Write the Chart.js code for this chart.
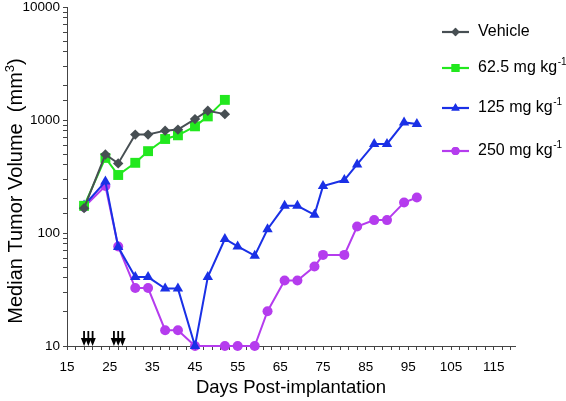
<!DOCTYPE html>
<html>
<head>
<meta charset="utf-8">
<script src="https://cdn.jsdelivr.net/npm/chart.js@4.4.1/dist/chart.umd.min.js"></script>
<style>
  html, body { margin: 0; padding: 0; background: #fff; }
  #wrap { width: 566px; height: 401px; position: relative; }
</style>
</head>
<body>
<div id="wrap"><canvas id="chart"></canvas></div>
<script>
// Series data
const seriesNames = ['Vehicle', '62.5 mg kg', '125 mg kg', '250 mg kg'];
const seriesSup = ['', '-1', '-1', '-1'];

const vehicleDays = [19, 24, 27, 31, 34, 38, 41, 45, 48, 52];
const vehicle = [166, 495, 413, 743, 743, 805, 822, 1019, 1208, 1127];

const dose62Days = [19, 24, 27, 31, 34, 38, 41, 45, 48, 52];
const dose62 = [174, 462, 326, 418, 530, 679, 732, 879, 1076, 1507];

const dose125Days = [19, 24, 27, 31, 34, 38, 41, 45, 48, 52, 55, 59, 62, 66, 69, 73, 75, 80, 83, 87, 90, 94, 97];
const dose125 = [175, 285, 75, 40.7, 40.7, 32.2, 32.2, 10, 40.7, 88.5, 76, 63, 108, 174, 174, 145, 260, 294, 404, 614, 614, 952, 920];

const dose250Days = [19, 24, 27, 31, 34, 38, 41, 45, 52, 55, 59, 62, 66, 69, 73, 75, 80, 83, 87, 90, 94, 97];
const dose250 = [170, 261, 76, 32.6, 32.6, 13.8, 13.8, 10, 10, 10, 10, 20.3, 38, 38, 50.5, 64, 64, 114, 130, 130, 186, 206];

// dosing days marked with arrows
const arrowDays = [19, 20, 21, 26, 27, 28];

// x tick marks every 2 days, labels every 10
const xTicks = [];
for (let d = 15; d <= 119; d += 2) xTicks.push(d);

const pts = (days, vals) => days.map((d, i) => ({ x: d, y: vals[i] }));

const colors = ['#474f53', '#22e81e', '#1a30e6', '#b53cee'];
const styles = ['rectRot', 'rect', 'triangle', 'circle'];
const radii = [5.2, 7, 6, 5];

const font = "'Liberation Sans', Arial, sans-serif";

// arrows + legend + y title drawn on the canvas
const extras = {
    id: 'extras',
    afterDatasetsDraw(chart) {
        const ctx = chart.ctx;
        const xs = chart.scales.x, ys = chart.scales.y;
        const base = ys.getPixelForValue(10);

        // arrows
        ctx.save();
        ctx.fillStyle = '#000';
        ctx.strokeStyle = '#000';
        ctx.lineWidth = 1.8;
        arrowDays.forEach(d => {
            const x = xs.getPixelForValue(d);
            ctx.beginPath();
            ctx.moveTo(x, base - 15);
            ctx.lineTo(x, base - 6);
            ctx.stroke();
            ctx.beginPath();
            ctx.moveTo(x - 3.2, base - 8);
            ctx.lineTo(x + 3.2, base - 8);
            ctx.lineTo(x, base);
            ctx.closePath();
            ctx.fill();
        });
        ctx.restore();

        // legend
        const rows = [32, 68, 108, 151];
        ctx.save();
        ctx.textBaseline = 'middle';
        seriesNames.forEach((name, i) => {
            const y = rows[i];
            ctx.strokeStyle = colors[i];
            ctx.lineWidth = 2.2;
            ctx.beginPath();
            ctx.moveTo(442, y);
            ctx.lineTo(469, y);
            ctx.stroke();
            ctx.fillStyle = colors[i];
            Chart.helpers.drawPoint(ctx, { pointStyle: styles[i], radius: radii[i] * 0.8, rotation: 0, borderWidth: 0 }, 455.5, y);
            ctx.fill();
            ctx.fillStyle = '#000';
            ctx.font = '16px ' + font;
            ctx.textAlign = 'left';
            ctx.fillText(name, 478, y);
            if (seriesSup[i]) {
                const w = ctx.measureText(name).width;
                ctx.font = '10px ' + font;
                ctx.fillText(seriesSup[i], 478 + w + 0.5, y - 6);
            }
        });
        ctx.restore();

        // y axis title with superscript
        ctx.save();
        ctx.translate(16, 191);
        ctx.rotate(-Math.PI / 2);
        ctx.fillStyle = '#000';
        ctx.textBaseline = 'middle';
        ctx.textAlign = 'left';
        ctx.font = '20px ' + font;
        const main = 'Median Tumor Volume  (mm';
        const wMain = ctx.measureText(main).width;
        ctx.font = '13px ' + font;
        const wSup = ctx.measureText('3').width;
        ctx.font = '20px ' + font;
        const wEnd = ctx.measureText(')').width;
        const start = -(wMain + wSup + wEnd) / 2;
        ctx.fillText(main, start, 0);
        ctx.font = '13px ' + font;
        ctx.fillText('3', start + wMain, -6);
        ctx.font = '20px ' + font;
        ctx.fillText(')', start + wMain + wSup, 0);
        ctx.restore();
    }
};

const sets = [
    [vehicleDays, vehicle],
    [dose62Days, dose62],
    [dose125Days, dose125],
    [dose250Days, dose250]
];

new Chart(document.getElementById('chart'), {
    type: 'line',
    data: {
        datasets: sets.map((s, i) => ({
            label: seriesNames[i],
            data: pts(s[0], s[1]),
            borderColor: colors[i],
            backgroundColor: colors[i],
            borderWidth: 2,
            pointStyle: styles[i],
            pointRadius: radii[i],
            pointBorderWidth: 0,
            pointHoverRadius: radii[i],
            tension: 0,
            clip: false
        }))
    },
    options: {
        responsive: true,
        maintainAspectRatio: false,
        animation: false,
        layout: { padding: { top: 5, right: 51, left: 0, bottom: 0 } },
        plugins: {
            legend: { display: false },
            tooltip: { enabled: false }
        },
        scales: {
            x: {
                type: 'linear',
                min: 15,
                max: 120,
                afterBuildTicks: scale => { scale.ticks = xTicks.map(v => ({ value: v })); },
                afterFit: scale => { scale.height = 55; scale.paddingLeft = 0; scale.paddingRight = 0; },
                ticks: {
                    autoSkip: false,
                    maxRotation: 0,
                    padding: 9,
                    color: '#000',
                    font: { family: font, size: 13.5 },
                    callback: v => ((v - 15) % 10 === 0 ? String(v) : '')
                },
                grid: { display: true, drawOnChartArea: false, drawTicks: true, tickLength: 4, color: '#444' },
                border: { display: true, color: '#444', width: 1 },
                title: {
                    display: true,
                    text: 'Days Post-implantation',
                    color: '#000',
                    font: { family: font, size: 18.5 },
                    padding: { top: 0, bottom: 2 }
                }
            },
            y: {
                type: 'logarithmic',
                min: 10,
                max: 10000,
                afterFit: scale => { scale.width = 67; scale.paddingTop = 0; scale.paddingBottom = 0; },
                ticks: {
                    autoSkip: false,
                    padding: 3,
                    color: '#000',
                    font: { family: font, size: 13.5 },
                    callback: v => ([10, 100, 1000, 10000].includes(v) ? String(v) : '')
                },
                grid: { display: true, drawOnChartArea: false, drawTicks: true, tickLength: 4, color: '#444' },
                border: { display: true, color: '#444', width: 1 }
            }
        }
    },
    plugins: [extras]
});
</script>
</body>
</html>
